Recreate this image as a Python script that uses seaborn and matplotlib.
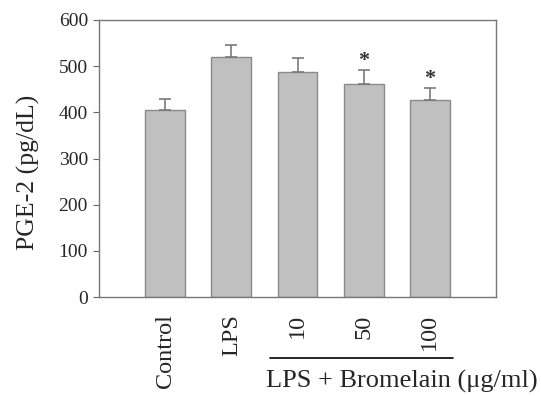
import pandas as pd
import seaborn as sns
import matplotlib.pyplot as plt
import numpy as np

groups = ["Control", "LPS", "10", "50", "100"]
pge2 = [404, 519, 487, 461, 427]
sem = [24, 26, 30, 31, 26]
significant = [False, False, False, True, True]

sns.set_style("white")
plt.rcParams["font.family"] = ["Liberation Serif", "DejaVu Serif"]

data = pd.DataFrame({"group": groups, "pge2": pge2})

fig = plt.figure(figsize=(5.41, 3.96), dpi=100)
ax = fig.add_axes([99 / 541, 1 - 297 / 396, 397 / 541, 277 / 396])

sns.barplot(data=data, x="group", y="pge2", color="#c0c0c0", width=0.6,
            edgecolor="#8a8a8a", linewidth=1, saturation=1, ax=ax)

x = np.arange(len(groups))
ax.errorbar(x, pge2, yerr=[np.zeros(len(sem)), sem], fmt="none",
            ecolor="#7a7a7a", elinewidth=1.2, capsize=4, capthick=1.2)

for i, flag in enumerate(significant):
    if flag:
        ax.text(i, pge2[i] + sem[i] - 3, "*", ha="center", va="bottom",
                fontsize=16, fontweight="bold", color="#333333")

ax.set_xlim(-1, 5)
ax.set_ylim(0, 600)
ax.set_yticks(range(0, 601, 100))
ax.set_xlabel("")
ax.set_ylabel("PGE-2 (pg/dL)", fontsize=18.5)
ax.yaxis.set_label_coords(-0.148, 0.45)
ax.tick_params(axis="y", left=True, length=4, color="#666666", labelsize=14, pad=4)
ax.tick_params(axis="x", bottom=False, labelsize=17.5, pad=9)
plt.setp(ax.get_xticklabels(), rotation=90)

for s in ax.spines.values():
    s.set_color("#777777")
    s.set_linewidth(1)

# bracket under the bromelain doses
ax.plot([1.59, 4.35], [-0.22, -0.22], color="black", lw=1.2,
        transform=ax.get_xaxis_transform(), clip_on=False)
ax.text(3.58, -0.265, "LPS + Bromelain (\u03bcg/ml)", ha="center", va="top",
        fontsize=19, transform=ax.get_xaxis_transform())

fig.savefig("out.png", dpi=100)
